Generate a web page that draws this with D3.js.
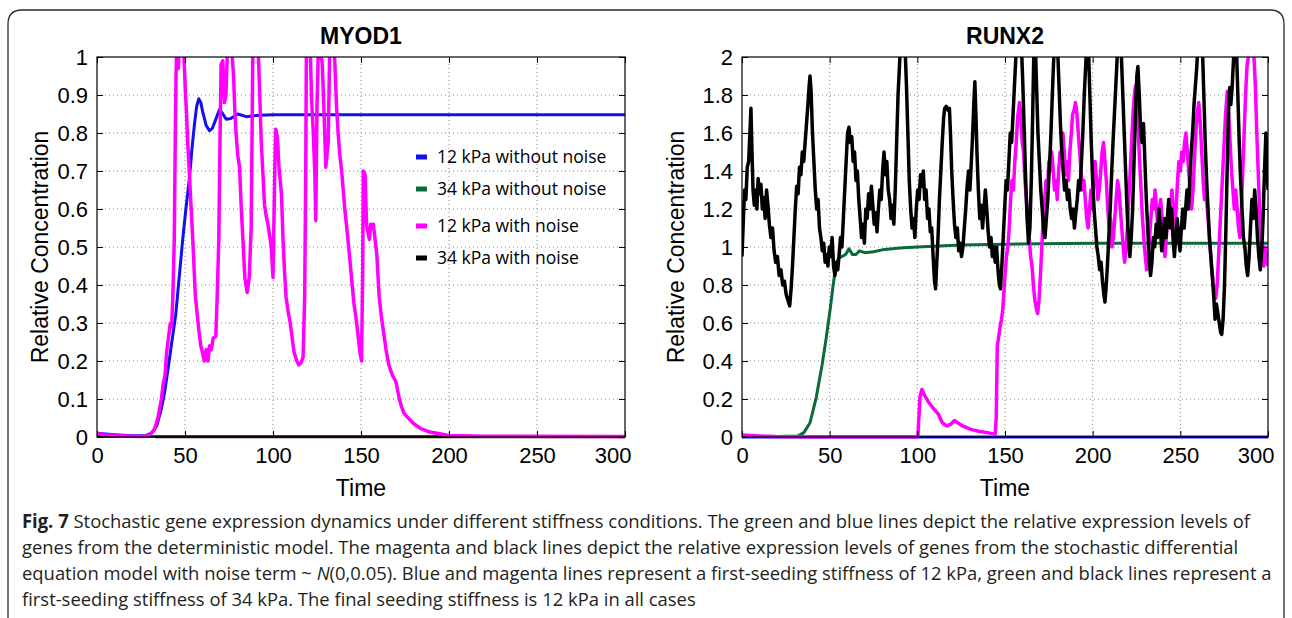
<!DOCTYPE html>
<html>
<head>
<meta charset="utf-8">
<script src="https://cdnjs.cloudflare.com/ajax/libs/d3/7.8.5/d3.min.js"></script>
<style>
  body { margin: 0; background: #fff; }
</style>
</head>
<body>
<div id="fig"></div>
<script>
var w = 1292, h = 618;
var axisFont = "'Liberation Sans', Arial, sans-serif";
var humanFont = "'Open Sans', 'Noto Sans', sans-serif";

// x ticks shared by both panels
var timeTicks = [0, 50, 100, 150, 200, 250, 300];
var myodTicks = [0, 0.1, 0.2, 0.3, 0.4, 0.5, 0.6, 0.7, 0.8, 0.9, 1];
var runxTicks = [0, 0.2, 0.4, 0.6, 0.8, 1, 1.2, 1.4, 1.6, 1.8, 2];

var legendLabels = ["12 kPa without noise", "34 kPa without noise", "12 kPa with noise", "34 kPa with noise"];
var seriesColors = ["#1010f0", "#0b6a3c", "#ff00ff", "#000000"];

// MYOD1 panel, [time, relative concentration]
var myod12Det = [[0,0.01],[10,0.006],[20,0.003],[28,0.004],[31,0.01],[34,0.03],[36.6,0.075],[38.5,0.12],[40.7,0.19],[42.5,0.25],[44.7,0.32],[46.5,0.41],[48.7,0.52],[50.5,0.6],[52.5,0.68],[54,0.76],[55.3,0.82],[56.6,0.87],[57.8,0.89],[59,0.88],[60,0.857],[62,0.82],[63.9,0.806],[65.5,0.812],[67,0.83],[69.6,0.862],[71.5,0.85],[73.4,0.836],[76,0.838],[80,0.85],[84.8,0.843],[92.4,0.847],[100,0.848],[300,0.848]];
var myod34Det = [[0,0.001],[300,0.001]];
var myod12Noise = [[0,0.009],[5,0.006],[10,0.004],[15,0.003],[20,0.002],[26,0.001],[29.5,0.004],[32.5,0.018],[34.6,0.05],[36.6,0.1],[37.6,0.14],[38.6,0.16],[39.5,0.22],[40.3,0.25],[41.7,0.3],[42.4,0.29],[43.1,0.37],[43.9,0.52],[44.5,0.8],[44.9,0.95],[45.4,1.05],[46.2,0.97],[47,1.06],[48,1.02],[49,1.05],[50.2,0.91],[50.8,0.86],[51.5,0.78],[52.4,0.7],[53.4,0.61],[54.4,0.52],[55.9,0.37],[57.9,0.28],[59,0.24],[60,0.22],[61,0.2],[62,0.23],[63,0.2],[64,0.24],[65,0.23],[66,0.26],[67.5,0.265],[68.3,0.37],[69.2,0.52],[69.8,0.75],[70.5,0.98],[71.5,0.99],[72.4,0.88],[73.3,0.9],[74.3,1.05],[75.3,1.01],[76.2,1.04],[77.6,0.95],[78.3,0.86],[79,0.8],[80,0.74],[81,0.71],[82,0.6],[82.9,0.52],[84,0.42],[85.3,0.38],[86.5,0.42],[87.6,0.55],[88.1,0.8],[88.6,1.05],[90,1.03],[91.4,1.05],[92.4,0.91],[93.3,0.78],[94.2,0.7],[95.2,0.61],[96.2,0.58],[97.1,0.56],[98.1,0.53],[99,0.5],[100,0.42],[101,0.7],[101.5,0.81],[102.5,0.79],[103.4,0.71],[104.8,0.64],[105.7,0.52],[106.5,0.44],[107.4,0.37],[108.6,0.33],[109.8,0.3],[111.9,0.225],[113.5,0.2],[114.7,0.19],[115.9,0.195],[117.1,0.21],[118,0.37],[118.6,0.7],[119,1.05],[120,1.02],[121,1.05],[121.9,0.89],[122.8,0.81],[123.8,0.69],[124.3,0.57],[125,0.87],[125.9,1.05],[127,1.02],[128,0.98],[128.9,0.87],[130,0.71],[131.4,0.78],[132.3,1.05],[133.4,1.02],[134.6,1.05],[136.1,0.87],[137,0.8],[138,0.74],[139,0.7],[139.9,0.65],[140.8,0.6],[141.8,0.555],[143,0.5],[144,0.45],[145,0.4],[146,0.35],[147,0.32],[148,0.28],[149.5,0.22],[150.3,0.2],[151,0.45],[151.3,0.7],[152.3,0.69],[153.2,0.555],[154.8,0.52],[155.5,0.56],[156.2,0.55],[157,0.56],[158,0.52],[159,0.48],[160.3,0.37],[161.5,0.32],[162.7,0.28],[164.2,0.23],[165.8,0.19],[167.8,0.163],[169.8,0.146],[171.8,0.1],[173,0.08],[174.5,0.062],[177,0.049],[180,0.035],[184,0.022],[189,0.013],[194,0.009],[200,0.004],[220,0.002],[300,0.001]];
var myod34Noise = [[33,0.0],[300,0.0]];

// RUNX2 panel
var runx12Det = [[0,0.0],[300,0.0]];
var runx34Det = [[0,0.005],[20,0.002],[31.8,0.005],[35.3,0.023],[38.8,0.075],[42.3,0.206],[45.7,0.38],[48,0.52],[50.4,0.68],[52,0.8],[53.5,0.9],[55,0.94],[57,0.95],[59,0.96],[61,0.99],[63,0.96],[65,0.96],[67,0.98],[70,0.97],[75,0.975],[80,0.985],[90,0.995],[100,1.0],[125,1.01],[150,1.015],[200,1.02],[300,1.02]];
var runx12Noise = [[0,0.01],[10,0.005],[19,0.002],[40,0.001],[100.3,0.001],[101.5,0.21],[102.6,0.25],[103.8,0.224],[106,0.19],[107.5,0.17],[109.6,0.145],[112,0.12],[114.2,0.075],[116.6,0.058],[118.9,0.066],[121.2,0.087],[123,0.075],[125.8,0.058],[128,0.05],[130.5,0.04],[135,0.03],[139.8,0.023],[144.4,0.015],[145,0.1],[145.6,0.48],[146.3,0.52],[147.2,0.58],[148,0.62],[148.6,0.66],[149.3,0.75],[150,0.85],[150.8,0.95],[151.6,1.0],[152.4,1.1],[153.2,1.25],[154,1.35],[154.8,1.3],[155.6,1.45],[156.4,1.55],[157.2,1.68],[158.2,1.76],[159,1.7],[159.8,1.55],[160.6,1.5],[161.4,1.35],[162.2,1.25],[163,1.15],[163.8,1.05],[164.6,0.95],[165.4,0.9],[166.2,0.8],[167,0.72],[167.8,0.68],[168.6,0.65],[169.4,0.72],[170.2,0.85],[171,1.0],[171.8,1.15],[172.6,1.25],[173.4,1.35],[174.2,1.3],[175,1.45],[175.8,1.4],[176.6,1.5],[177.4,1.42],[178.2,1.3],[179,1.35],[179.8,1.25],[180.6,1.4],[181.4,1.5],[182.2,1.45],[183,1.6],[183.8,1.5],[184.6,1.38],[185.4,1.45],[186.2,1.35],[187,1.5],[187.8,1.6],[188.6,1.7],[189.4,1.72],[190.2,1.76],[191,1.7],[191.8,1.6],[192.6,1.5],[193.4,1.4],[194.2,1.3],[195,1.35],[195.8,1.25],[196.6,1.15],[197.4,1.1],[198.2,1.2],[199,1.3],[199.8,1.2],[200.6,1.35],[201.4,1.45],[202.2,1.35],[203,1.25],[203.8,1.3],[204.6,1.4],[205.4,1.5],[206.2,1.55],[207,1.45],[207.8,1.35],[208.6,1.2],[209.4,1.1],[210.2,1.15],[211,1.0],[211.8,1.05],[212.6,1.15],[213.4,1.25],[214.2,1.35],[215,1.3],[215.8,1.2],[216.6,1.1],[217.4,1.0],[218.2,0.92],[219,0.98],[219.8,1.1],[220.6,1.25],[221.4,1.4],[222.2,1.55],[223,1.7],[223.8,1.8],[224.5,1.85],[225.2,1.75],[226,1.6],[226.8,1.45],[227.6,1.3],[228.4,1.15],[229.2,1.05],[230,0.95],[230.8,0.88],[231.6,0.95],[232.4,1.05],[233.2,1.15],[234,1.25],[234.8,1.2],[235.6,1.3],[236.4,1.2],[237.2,1.1],[238,1.2],[238.8,1.25],[239.6,1.15],[240.4,1.05],[241.2,0.95],[242,1.05],[242.8,1.15],[243.6,1.25],[244.4,1.2],[245.2,1.3],[246,1.2],[246.8,1.1],[247.6,1.2],[248.4,1.35],[249.2,1.45],[250,1.4],[250.8,1.5],[251.6,1.45],[252.4,1.55],[253.2,1.6],[254,1.5],[254.8,1.4],[255.6,1.3],[256.4,1.2],[257.2,1.3],[258,1.45],[258.8,1.6],[259.6,1.7],[260.5,1.76],[261.4,1.65],[262.2,1.5],[263,1.35],[263.8,1.25],[264.6,1.3],[265.4,1.2],[266.2,1.1],[267,1.0],[267.8,0.9],[268.6,0.82],[269.4,0.76],[270.2,0.73],[271,0.8],[271.8,0.95],[272.6,1.1],[273.4,1.25],[274.2,1.4],[275,1.55],[275.8,1.7],[276.8,1.82],[277.6,1.7],[278.4,1.55],[279.2,1.4],[280,1.3],[280.8,1.2],[281.6,1.3],[282.4,1.2],[283.2,1.1],[284,1.05],[284.8,1.2],[285.6,1.4],[286.4,1.6],[287.2,1.8],[288,1.95],[288.8,2.0],[289.6,2.05],[290.4,2.1],[291.2,2.05],[292,2.0],[292.8,1.85],[293.6,1.6],[294.4,1.4],[295.2,1.2],[296,1.05],[296.8,0.95],[297.6,0.9],[298.4,1.0],[299.2,0.95],[300,0.9]];
var runx34Noise = [[0,0.95],[0.8,1.15],[1.5,1.3],[2.2,1.25],[3,1.42],[3.8,1.45],[4.5,1.6],[5.1,1.73],[5.7,1.5],[6.3,1.3],[7,1.22],[7.8,1.3],[8.5,1.2],[9.2,1.36],[10,1.28],[10.8,1.33],[11.6,1.2],[12.4,1.26],[13.2,1.15],[14,1.3],[14.8,1.22],[15.6,1.12],[16.5,1.05],[17.4,1.1],[18.3,0.98],[19.2,0.92],[20.2,0.95],[21.2,0.85],[22.2,0.88],[23.2,0.8],[24.2,0.82],[25.2,0.75],[26.2,0.72],[27.2,0.69],[28,0.78],[28.8,0.9],[29.6,1.05],[30.4,1.2],[31.2,1.32],[32,1.28],[32.8,1.42],[33.6,1.38],[34.4,1.5],[35.2,1.45],[36,1.55],[36.8,1.65],[37.6,1.75],[38.3,1.85],[38.8,1.9],[39.4,1.82],[40.2,1.6],[41,1.45],[41.8,1.3],[42.6,1.2],[43.4,1.25],[44.2,1.1],[45,1.05],[45.8,0.98],[46.6,1.02],[47.4,0.92],[48.2,0.96],[49,0.9],[49.8,1.0],[50.6,0.95],[51.4,1.05],[52.2,0.9],[53,0.85],[53.8,0.92],[54.6,0.88],[55.4,0.96],[56.2,1.05],[57,1.0],[57.8,1.15],[58.6,1.3],[59.4,1.45],[60.2,1.6],[61,1.63],[61.8,1.55],[62.6,1.58],[63.4,1.45],[64.2,1.5],[65,1.35],[65.8,1.4],[66.6,1.25],[67.4,1.15],[68.2,1.05],[69,1.12],[69.8,1.02],[70.6,1.2],[71.4,1.15],[72.2,1.28],[73,1.2],[73.8,1.32],[74.6,1.22],[75.4,1.12],[76.2,1.18],[77,1.08],[77.8,1.2],[78.6,1.3],[79.4,1.25],[80.2,1.4],[81,1.5],[81.8,1.38],[82.6,1.45],[83.4,1.3],[84.2,1.25],[85,1.15],[85.8,1.22],[86.6,1.12],[87.4,1.3],[88.2,1.55],[89,1.8],[89.8,1.95],[90.6,2.1],[91.4,2.2],[92.2,2.15],[93,2.05],[93.8,1.85],[94.6,1.6],[95.4,1.35],[96.2,1.2],[97,1.1],[97.8,1.15],[98.6,1.05],[99.4,1.2],[100.2,1.3],[101,1.25],[101.8,1.38],[102.6,1.32],[103.4,1.4],[104.2,1.25],[105,1.3],[105.8,1.15],[106.6,1.2],[107.4,1.08],[108.2,1.1],[109,0.95],[109.8,0.82],[110.4,0.78],[111,0.9],[111.8,1.05],[112.6,1.25],[113.4,1.4],[114.2,1.55],[115,1.68],[115.6,1.73],[116.5,1.74],[117.4,1.72],[118.3,1.73],[118.9,1.6],[119.6,1.4],[120.4,1.25],[121.2,1.12],[122,1.05],[122.8,1.1],[123.6,0.98],[124.4,1.02],[125.2,0.95],[126,1.0],[126.8,1.1],[127.6,1.2],[128.4,1.32],[129.2,1.4],[130,1.3],[130.8,1.45],[131.6,1.6],[132.2,1.75],[132.8,1.87],[133.4,1.7],[134,1.5],[134.8,1.3],[135.6,1.15],[136.4,1.22],[137.2,1.1],[138,1.2],[138.8,1.3],[139.6,1.2],[140.4,1.08],[141.2,1.0],[142,1.05],[142.8,0.95],[143.6,1.0],[144.4,0.92],[145.2,1.0],[146,0.88],[146.8,0.8],[147.4,0.78],[148.2,0.9],[149,1.05],[149.8,1.2],[150.6,1.35],[151.4,1.3],[152.2,1.45],[153,1.6],[153.8,1.55],[154.6,1.7],[155.4,1.85],[156.2,2.0],[157,2.1],[157.8,2.2],[158.6,2.15],[159.4,2.05],[160.2,1.85],[161,1.6],[161.8,1.35],[162.6,1.15],[163.4,1.02],[164.2,1.1],[165,1.35],[165.8,1.7],[166.5,2.05],[167.2,2.1],[168,1.85],[168.8,1.6],[169.6,1.45],[170.4,1.3],[171.2,1.2],[172,1.1],[172.8,1.05],[173.6,1.15],[174.4,1.25],[175.2,1.4],[176,1.55],[176.8,1.75],[177.6,1.95],[178.4,2.1],[179.2,2.15],[180,2.05],[180.8,1.85],[181.6,1.65],[182.4,1.5],[183.2,1.4],[184,1.3],[184.8,1.35],[185.6,1.25],[186.4,1.3],[187.2,1.2],[188,1.15],[188.8,1.2],[189.6,1.1],[190.4,1.18],[191.2,1.25],[192,1.35],[192.8,1.3],[193.6,1.45],[194.4,1.6],[195.2,1.8],[196,1.95],[196.8,2.1],[197.6,2.05],[198.4,1.8],[199.2,1.55],[200,1.35],[200.8,1.2],[201.6,1.1],[202.4,1.0],[203.2,0.95],[204,0.88],[204.8,0.92],[205.6,0.82],[206.4,0.75],[207,0.71],[207.6,0.78],[208.4,0.9],[209.2,1.05],[210,1.2],[210.8,1.38],[211.6,1.55],[212.4,1.7],[213.2,1.85],[214,2.0],[214.8,2.1],[215.6,2.15],[216.4,2.0],[217.2,1.8],[218,1.6],[218.8,1.4],[219.6,1.2],[220.4,1.05],[221.2,0.95],[222,1.05],[222.8,1.2],[223.6,1.45],[224.4,1.7],[225.2,1.9],[225.8,1.95],[226.6,1.8],[227.4,1.6],[228.2,1.55],[229,1.65],[229.8,1.45],[230.6,1.25],[231.4,1.1],[232.2,0.95],[233,0.85],[233.8,0.92],[234.6,1.05],[235.4,1.0],[236.2,1.12],[237,1.05],[237.8,1.2],[238.6,1.1],[239.4,0.98],[240.2,1.05],[241,1.15],[241.8,1.05],[242.6,1.15],[243.4,1.25],[244.2,1.1],[245,1.2],[245.8,1.05],[246.6,0.95],[247.4,1.05],[248.2,1.15],[249,1.05],[249.8,0.98],[250.6,1.1],[251.4,1.2],[252.2,1.1],[253,1.2],[253.8,1.3],[254.6,1.2],[255.4,1.35],[256.2,1.5],[257,1.6],[257.8,1.75],[258.6,1.85],[259.4,1.95],[260.2,2.1],[261,2.15],[261.8,2.2],[262.6,2.05],[263.4,1.8],[264.2,1.55],[265,1.35],[265.8,1.2],[266.6,1.05],[267.4,0.95],[268.2,0.85],[269,0.75],[269.8,0.62],[270.6,0.7],[271.4,0.65],[272.2,0.6],[273,0.55],[273.6,0.54],[274.4,0.62],[275.2,0.8],[276,1.1],[276.8,1.45],[277.6,1.75],[278.2,1.84],[278.8,1.75],[279.6,1.85],[280.4,2.0],[281.2,2.15],[282,2.05],[282.8,1.8],[283.6,1.55],[284.4,1.35],[285.2,1.2],[286,1.05],[286.8,1.0],[287.6,0.9],[288.4,0.85],[289.2,0.95],[290,1.1],[290.8,1.25],[291.6,1.15],[292.4,1.3],[293.2,1.2],[294,1.05],[294.8,0.95],[295.6,0.88],[296.4,0.98],[297.2,1.15],[298,1.4],[298.8,1.6],[299.5,1.45],[300,1.3]];

var captionBold = "Fig. 7";
var captionLines = [
  " Stochastic gene expression dynamics under different stiffness conditions. The green and blue lines depict the relative expression levels of",
  "genes from the deterministic model. The magenta and black lines depict the relative expression levels of genes from the stochastic differential",
  "equation model with noise term ~ N(0,0.05). Blue and magenta lines represent a first-seeding stiffness of 12 kPa, green and black lines represent a",
  "first-seeding stiffness of 34 kPa. The final seeding stiffness is 12 kPa in all cases"
];
var captionMaxWidth = 1250;

var svg = d3.select("#fig")
    .append("svg")
    .attr("width", w)
    .attr("height", h);

svg.append("rect").attr("width", w).attr("height", h).attr("fill", "#fff");

// rounded frame round the figure, open at the bottom
svg.append("path")
    .attr("d", "M8,630 V24 Q8,10 22,10 H1270 Q1284,10 1284,24 V630")
    .attr("fill", "none")
    .attr("stroke", "#2b2b2b")
    .attr("stroke-width", 1.3);

var defs = svg.append("defs");

function panel(opts){
  var x = d3.scaleLinear().domain([0, 300]).range([opts.left, opts.right]);
  var y = d3.scaleLinear().domain([0, opts.ymax]).range([437, 57]);
  var g = svg.append("g");

  defs.append("clipPath").attr("id", "clip-" + opts.title)
    .append("rect")
    .attr("x", x(0)).attr("y", y(opts.ymax))
    .attr("width", x(300) - x(0)).attr("height", y(0) - y(opts.ymax) + 2);

  // dotted grid
  g.selectAll(".gx").data(timeTicks.slice(1, -1)).enter().append("line")
    .attr("x1", function(d){ return x(d); }).attr("x2", function(d){ return x(d); })
    .attr("y1", y(0)).attr("y2", y(opts.ymax))
    .attr("stroke", "#8a8a8a").attr("stroke-width", 1).attr("stroke-dasharray", "1,3");
  g.selectAll(".gy").data(opts.yticks.slice(1, -1)).enter().append("line")
    .attr("x1", x(0)).attr("x2", x(300))
    .attr("y1", function(d){ return y(d); }).attr("y2", function(d){ return y(d); })
    .attr("stroke", "#8a8a8a").attr("stroke-width", 1).attr("stroke-dasharray", "1,3");

  var line = d3.line()
    .x(function(d){ return x(d[0]); })
    .y(function(d){ return y(d[1]); });

  var lines = g.append("g").attr("clip-path", "url(#clip-" + opts.title + ")");
  opts.series.forEach(function(s){
    lines.append("path")
      .datum(s.data)
      .attr("d", line)
      .attr("fill", "none")
      .attr("stroke", s.color)
      .attr("stroke-width", s.width)
      .attr("stroke-linejoin", "round");
  });

  // box with inward ticks, like matlab
  g.append("rect")
    .attr("x", x(0)).attr("y", y(opts.ymax))
    .attr("width", x(300) - x(0)).attr("height", y(0) - y(opts.ymax))
    .attr("fill", "none").attr("stroke", "#000").attr("stroke-width", 1.2);

  var bottom = d3.axisBottom(x).tickValues(timeTicks).tickSizeInner(-6).tickSizeOuter(0).tickPadding(10);
  var top = d3.axisTop(x).tickValues(timeTicks).tickSizeInner(-6).tickSizeOuter(0).tickFormat("");
  var left = d3.axisLeft(y).tickValues(opts.yticks).tickSizeInner(-6).tickSizeOuter(0).tickPadding(9)
    .tickFormat(d3.format(".1~f"));
  var right = d3.axisRight(y).tickValues(opts.yticks).tickSizeInner(-6).tickSizeOuter(0).tickFormat("");

  var gb = g.append("g").attr("transform", "translate(0," + y(0) + ")").call(bottom);
  g.append("g").attr("transform", "translate(0," + y(opts.ymax) + ")").call(top);
  var gl = g.append("g").attr("transform", "translate(" + x(0) + ",0)").call(left);
  g.append("g").attr("transform", "translate(" + x(300) + ",0)").call(right);

  g.selectAll(".domain").remove();
  g.selectAll(".tick line").attr("stroke", "#000");
  gb.selectAll("text").attr("font-size", 22).attr("fill", "#000").style("font-family", axisFont);
  // last label sits inside the axis end, as in the original export
  gb.selectAll("text").filter(function(d){ return d === 300; }).attr("text-anchor", "end").attr("dx", 6);
  gl.selectAll("text").attr("font-size", 22).attr("fill", "#000").style("font-family", axisFont);

  svg.append("text")
    .attr("x", (opts.left + opts.right) / 2).attr("y", 44)
    .attr("text-anchor", "middle")
    .attr("font-weight", "bold").attr("font-size", 23)
    .style("font-family", axisFont)
    .text(opts.title);

  svg.append("text")
    .attr("x", (opts.left + opts.right) / 2).attr("y", 496)
    .attr("text-anchor", "middle").attr("font-size", 23)
    .style("font-family", axisFont)
    .text("Time");

  svg.append("text")
    .attr("transform", "translate(" + opts.ylabelX + ",247) rotate(-90)")
    .attr("text-anchor", "middle").attr("font-size", 23)
    .style("font-family", axisFont)
    .text("Relative Concentration");
}

panel({
  title: "MYOD1", left: 97, right: 625, ymax: 1, yticks: myodTicks, ylabelX: 48,
  series: [
    {data: myod12Det, color: seriesColors[0], width: 3},
    {data: myod34Det, color: seriesColors[1], width: 3},
    {data: myod34Noise, color: "#3b1010", width: 2.5},
    {data: myod12Noise, color: seriesColors[2], width: 3.5}
  ]
});

panel({
  title: "RUNX2", left: 742, right: 1268, ymax: 2, yticks: runxTicks, ylabelX: 684,
  series: [
    {data: runx12Det, color: seriesColors[0], width: 3},
    {data: runx34Det, color: seriesColors[1], width: 3},
    {data: runx12Noise, color: seriesColors[2], width: 3.5},
    {data: runx34Noise, color: seriesColors[3], width: 3.5}
  ]
});

// legend, no frame, sits in the MYOD1 axes
var legendY = [157, 189, 226, 258];
var leg = svg.append("g");
legendLabels.forEach(function(lab, i){
  leg.append("rect")
    .attr("x", 416).attr("y", legendY[i] - 2.5).attr("width", 11).attr("height", 5)
    .attr("fill", seriesColors[i]);
  leg.append("text")
    .attr("x", 437).attr("y", legendY[i] + 6)
    .style("font-family", humanFont)
    .attr("font-size", 17.5)
    .attr("fill", "#000")
    .text(lab);
});

// caption: condensed look, one horizontal squeeze so the longest line fits the frame
var capY = [528, 554, 580, 606];
var capTexts = captionLines.map(function(txt, i){
  var t = svg.append("text")
    .attr("x", 0).attr("y", 0)
    .style("font-family", humanFont)
    .attr("font-size", 19)
    .attr("fill", "#231f20");
  if (i === 0) t.append("tspan").attr("font-weight", "bold").text(captionBold);
  if (i === 2) {
    var parts = txt.split("N(0,0.05)");
    t.append("tspan").text(parts[0]);
    t.append("tspan").attr("font-style", "italic").text("N");
    t.append("tspan").text("(0,0.05)" + parts[1]);
  } else {
    t.append("tspan").text(txt);
  }
  return t;
});
var widest = d3.max(capTexts, function(t){ return t.node().getBBox().width; });
var sx = captionMaxWidth / widest;
capTexts.forEach(function(t, i){
  t.attr("transform", "translate(22," + capY[i] + ") scale(" + sx + ",1)");
});
</script>
</body>
</html>
